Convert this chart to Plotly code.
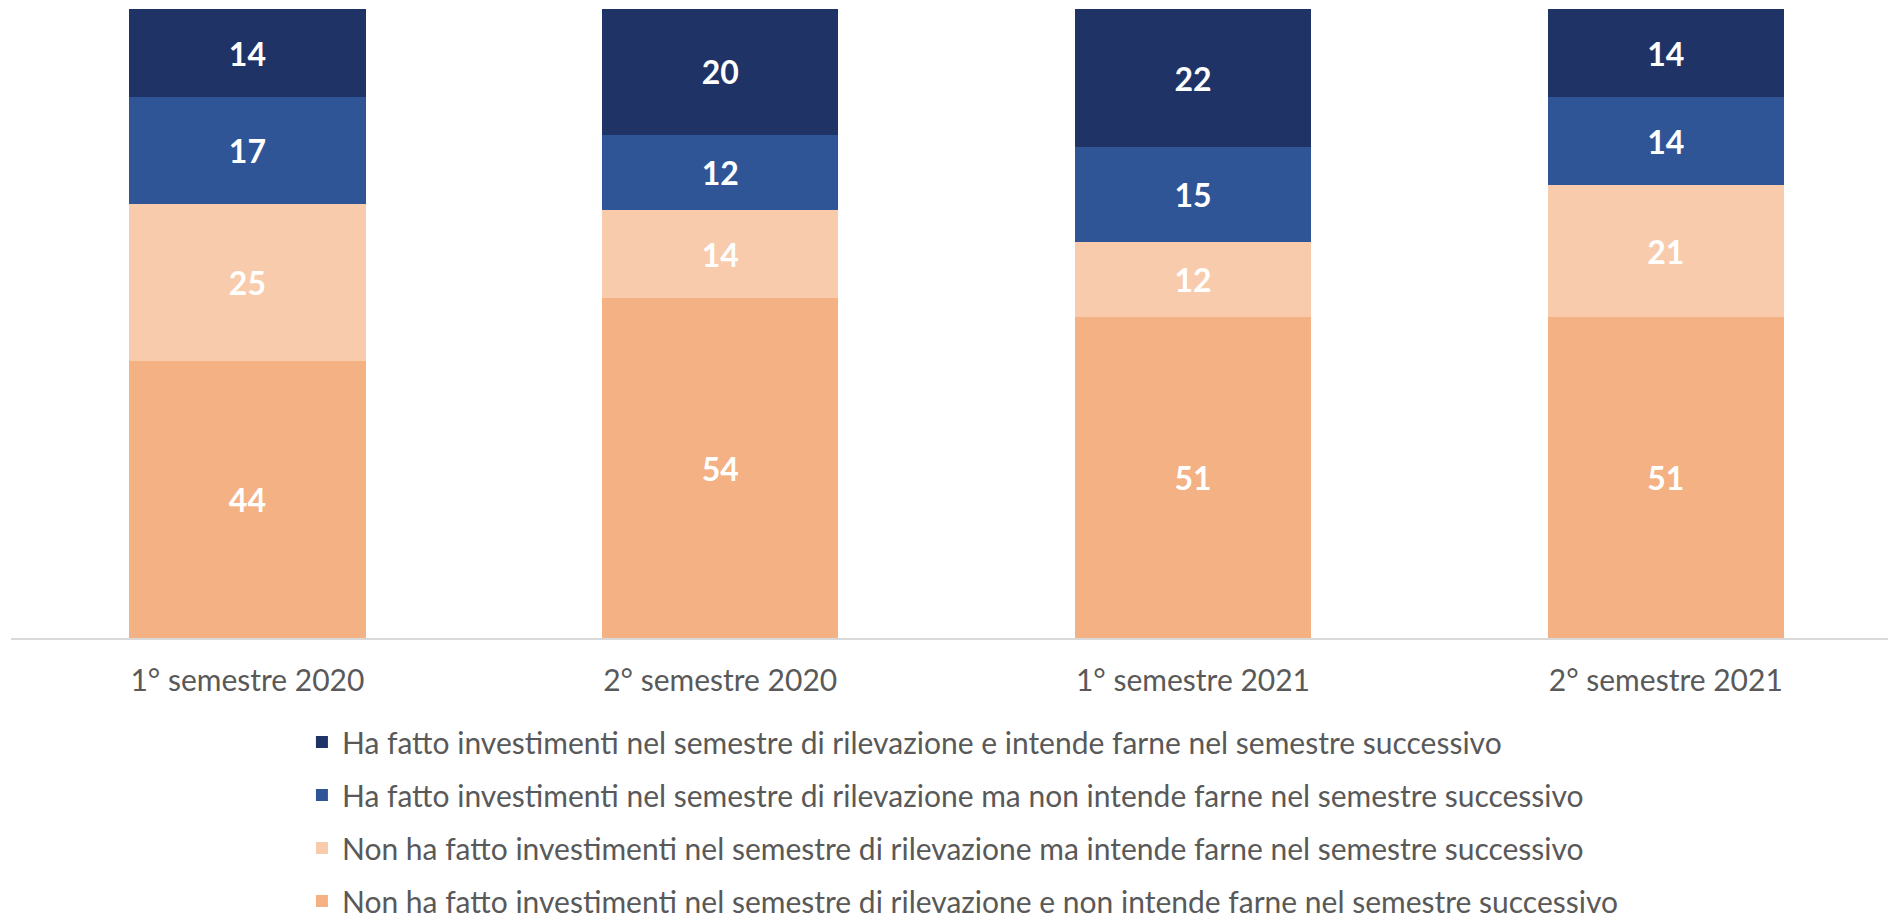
import plotly.graph_objects as go

# ---------------------------------------------------
# DATA
# ---------------------------------------------------

categories = [
    "1° semestre 2020",
    "2° semestre 2020",
    "1° semestre 2021",
    "2° semestre 2021",
]

series_names = [
    "Non ha fatto investimenti nel semestre di rilevazione e non intende farne nel semestre successivo",
    "Non ha fatto investimenti nel semestre di rilevazione ma intende farne nel semestre successivo",
    "Ha fatto investimenti nel semestre di rilevazione ma non intende farne nel semestre successivo",
    "Ha fatto investimenti nel semestre di rilevazione e intende farne nel semestre successivo",
]

no_inv_no_plan = [44, 54, 51, 51]
no_inv_plan = [25, 14, 12, 21]
inv_no_plan = [17, 12, 15, 14]
inv_plan = [14, 20, 22, 14]

series_values = [no_inv_no_plan, no_inv_plan, inv_no_plan, inv_plan]
colors = ["#F4B183", "#F8CBAD", "#2F5597", "#1F3366"]


# ---------------------------------------------------
# BARS
# ---------------------------------------------------

fig = go.Figure()

for i, (name, vals, col) in enumerate(zip(series_names, series_values, colors)):
    fig.add_trace(
        go.Bar(
            x=categories,
            y=vals,
            name=name,
            legendgroup="g%d" % i,
            legendrank=10 - i,
            marker=dict(color=col, line=dict(width=0)),
            width=0.5,
            text=vals,
            textposition="inside",
            insidetextanchor="middle",
            textangle=0,
            textfont=dict(family="Lato", size=32, color="white", weight="bold"),
        )
    )


# ---------------------------------------------------
# LAYOUT
# ---------------------------------------------------

fig.update_layout(
    width=1888,
    height=920,
    barmode="stack",
    plot_bgcolor="white",
    paper_bgcolor="white",
    font=dict(family="Lato", color="#595959"),
    uniformtext=dict(minsize=10, mode="show"),
    margin=dict(l=11, r=0, t=9, b=282, autoexpand=False),
    showlegend=True,
    legend=dict(
        x=0.155,
        y=-0.124,
        xanchor="left",
        yanchor="top",
        traceorder="grouped",
        tracegroupgap=11,
        font=dict(family="Lato", size=30, color="#595959"),
        bgcolor="rgba(0,0,0,0)",
    ),
)

fig.update_xaxes(
    range=[-0.5, 3.47],
    showline=True,
    linecolor="#D9D9D9",
    linewidth=2,
    ticks="outside",
    ticklen=15,
    tickcolor="rgba(0,0,0,0)",
    tickfont=dict(family="Lato", size=30, color="#595959"),
    showgrid=False,
    zeroline=False,
)

fig.update_yaxes(
    range=[0, 100],
    visible=False,
    showgrid=False,
    zeroline=False,
)

fig.write_html(
    "out.html",
    config={"displayModeBar": False},
    post_script="document.body.style.margin='0';",
)
